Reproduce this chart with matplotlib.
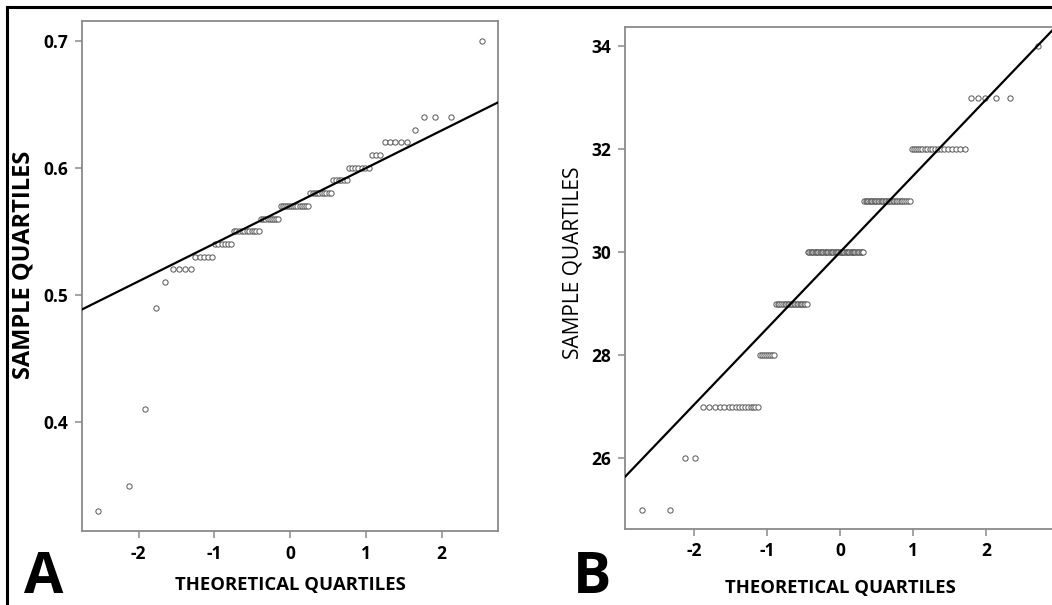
import numpy as np
import matplotlib.pyplot as plt
from matplotlib.lines import Line2D
from statistics import NormalDist

# Panel A: sample values (sorted levels) and how many observations sit on each level
a_levels = [0.33, 0.35, 0.41, 0.49, 0.51, 0.52, 0.53, 0.54, 0.55, 0.56,
            0.57, 0.58, 0.59, 0.60, 0.61, 0.62, 0.63, 0.64, 0.70]
a_counts = [1, 1, 1, 1, 1, 4, 5, 6, 11, 9, 14, 10, 6, 7, 3, 5, 1, 3, 1]

# Panel B
b_levels = [25, 26, 27, 28, 29, 30, 31, 32, 33, 34]
b_counts = [2, 2, 16, 8, 21, 45, 31, 19, 5, 1]

a_yticks = [0.4, 0.5, 0.6, 0.7]
b_yticks = [26, 28, 30, 32, 34]
xticks = [-2, -1, 0, 1, 2]

plt.rcParams['font.family'] = ['Open Sans', 'DejaVu Sans']


def qq_points(levels, counts):
    sample = np.repeat(levels, counts).astype(float)
    n = len(sample)
    nd = NormalDist()
    theo = np.array([nd.inv_cdf((i - 0.5) / n) for i in range(1, n + 1)])
    return theo, sample


def qq_line(ax, sample, xlim):
    # line through first and third quartiles, like R's qqline
    q1, q3 = np.percentile(sample, [25, 75])
    z = NormalDist().inv_cdf(0.75)
    slope = (q3 - q1) / (2 * z)
    icpt = (q1 + q3) / 2
    xs = np.array(xlim)
    ax.plot(xs, icpt + slope * xs, color='black', lw=1.6, zorder=3)


def style_axes(ax):
    for s in ax.spines.values():
        s.set_color('#8a8a8a')
        s.set_linewidth(1.3)
    ax.tick_params(colors='#8a8a8a', length=5, width=1.1, labelcolor='black',
                   labelsize=12.5, pad=5)
    for lab in ax.get_xticklabels() + ax.get_yticklabels():
        lab.set_fontweight('bold')


fig = plt.figure(figsize=(10.52, 6.05), dpi=100)

# ---- panel A
axA = fig.add_axes([0.078, 0.1217, 0.3954, 0.8435])
xa, ya = qq_points(a_levels, a_counts)
axA.plot(xa, ya, 'o', ms=3.8, mfc='white', mec='#555555', mew=0.7, zorder=2)
xlimA = (-2.746, 2.746)
qq_line(axA, ya, xlimA)
axA.set_xlim(*xlimA)
axA.set_ylim(0.314, 0.7154)
axA.set_xticks(xticks)
axA.set_xticklabels([str(t) for t in xticks])
axA.set_yticks(a_yticks)
axA.set_yticklabels([f'{t:.1f}' for t in a_yticks])
style_axes(axA)

# ---- panel B
axB = fig.add_axes([0.5944, 0.1263, 0.4056, 0.829])
xb, yb = qq_points(b_levels, b_counts)
axB.plot(xb, yb, 'o', ms=3.8, mfc='white', mec='#555555', mew=0.7, zorder=2)
xlimB = (-2.94, 2.90)
qq_line(axB, yb, xlimB)
axB.set_xlim(*xlimB)
axB.set_ylim(24.63, 34.37)
axB.set_xticks(xticks)
axB.set_xticklabels([str(t) for t in xticks])
axB.set_yticks(b_yticks)
axB.set_yticklabels([str(t) for t in b_yticks])
style_axes(axB)
axB.spines['right'].set_visible(False)

# axis titles
fig.text(290 / 1052, 1 - 585 / 605, 'THEORETICAL QUARTILES', ha='center', va='center',
         fontsize=13.3, fontweight='bold')
fig.text(840 / 1052, 1 - 588 / 605, 'THEORETICAL QUARTILES', ha='center', va='center',
         fontsize=13.3, fontweight='bold')
fig.text(24 / 1052, 1 - 265 / 605, 'SAMPLE QUARTILES', ha='center', va='center',
         rotation=90, fontsize=17, fontweight='bold')
fig.text(573 / 1052, 1 - 263 / 605, 'SAMPLE QUARTILES', ha='center', va='center',
         rotation=90, fontsize=15)

# panel letters
fig.text(44 / 1052, 1 - 578 / 605, 'A', ha='center', va='center', fontsize=41,
         fontweight='bold')
fig.text(592 / 1052, 1 - 578 / 605, 'B', ha='center', va='center', fontsize=41,
         fontweight='bold')

# outer frame (left and top edges only are visible)
fig.add_artist(Line2D([7 / 1052, 7 / 1052], [0, 1 - 7 / 605], color='black', lw=2.2,
                      transform=fig.transFigure))
fig.add_artist(Line2D([7 / 1052, 1], [1 - 7 / 605, 1 - 7 / 605], color='black', lw=2.2,
                      transform=fig.transFigure))

fig.savefig('out.png', dpi=100)
